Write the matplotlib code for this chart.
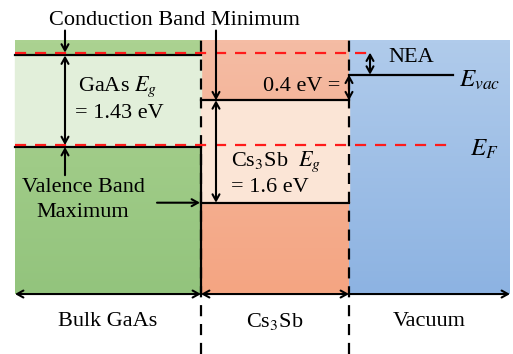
import numpy as np
import matplotlib
matplotlib.use('Agg')
import matplotlib.pyplot as plt
from matplotlib.colors import LinearSegmentedColormap

plt.rcParams['font.family'] = ['Liberation Serif', 'DejaVu Serif']
plt.rcParams['mathtext.fontset'] = 'stix'

# energies in eV, GaAs valence band maximum taken as zero
layers = ['Bulk GaAs', 'Cs$_3$Sb', 'Vacuum']
gaas_vbm = 0.0
gaas_eg = 1.43
cs3sb_cbm = 0.73
cs3sb_eg = 1.6
cs3sb_ea = 0.4          # E_vac above the Cs3Sb conduction band
fermi = 0.03

gaas_cbm = gaas_vbm + gaas_eg
cs3sb_vbm = cs3sb_cbm - cs3sb_eg
e_vac = cs3sb_cbm + cs3sb_ea

# layout (x in figure pixels, band box limits in eV)
edges = [15, 201, 349, 510]
top, bottom = 1.67, -2.297
ymin, ymax = -3.234, 2.297
dash_off = 0.045
FS = 16

fig = plt.figure(figsize=(5.13, 3.54), dpi=100)
ax = fig.add_axes([0, 0, 1, 1])
ax.set_xlim(0, 513)
ax.set_ylim(ymin, ymax)
ax.axis('off')


def grad_box(x0, x1, y0, y1, c_top, c_bot):
    cmap = LinearSegmentedColormap.from_list('g', [c_bot, c_top])
    g = np.linspace(0, 1, 64).reshape(-1, 1)
    ax.imshow(g, cmap=cmap, extent=(x0, x1, y0, y1), origin='lower',
              aspect='auto', zorder=0, interpolation='bicubic')


# GaAs
grad_box(edges[0], edges[1], bottom, top, '#abd291', '#93c47d')
ax.fill_between([edges[0], edges[1]], gaas_vbm, gaas_cbm, color='#e2efda', zorder=1)
# Cs3Sb
grad_box(edges[1], edges[2], bottom, top, '#f5bca4', '#f4a582')
ax.fill_between([edges[1], edges[2]], cs3sb_vbm, cs3sb_cbm, color='#fbe5d6', zorder=1)
# vacuum
grad_box(edges[2], edges[3], bottom, top, '#b0cbeb', '#8db3e2')

# band edges
ax.plot([edges[0], edges[1]], [gaas_cbm, gaas_cbm], color='black', lw=1.6, zorder=3)
ax.plot([edges[0], edges[1]], [gaas_vbm, gaas_vbm], color='black', lw=1.6, zorder=3)
ax.plot([edges[1], edges[2]], [cs3sb_cbm, cs3sb_cbm], color='black', lw=1.6, zorder=3)
ax.plot([edges[1], edges[2]], [cs3sb_vbm, cs3sb_vbm], color='black', lw=1.6, zorder=3)
ax.plot([edges[2], 453], [e_vac, e_vac], color='black', lw=1.6, zorder=3)
ax.plot([edges[1], edges[1]], [bottom, gaas_vbm], color='black', lw=1.6, zorder=3)

# reference levels
ax.plot([edges[0], 370], [gaas_cbm + dash_off] * 2, color='#ff1a1a', lw=1.6,
        dashes=(5, 4), zorder=4)
ax.plot([edges[0], 453], [fermi] * 2, color='#ff1a1a', lw=1.6,
        dashes=(5, 4), zorder=4)

# interfaces
for xb in edges[1:3]:
    ax.plot([xb, xb], [ymin, top], color='black', lw=1.6, dashes=(5, 3.5), zorder=2)


def arrow(x0, y0, x1, y1, style='->'):
    ax.annotate('', xy=(x1, y1), xytext=(x0, y0),
                arrowprops=dict(arrowstyle=style + ',head_length=0.45,head_width=0.25',
                                color='black', lw=1.5, shrinkA=0, shrinkB=0),
                zorder=5)


# conduction band minimum callout
ax.text(174, 1.98, 'Conduction Band Minimum', ha='center', va='center', fontsize=FS)
arrow(65, 1.82, 65, gaas_cbm + dash_off)
arrow(216, 1.82, 216, cs3sb_cbm)

# GaAs gap
arrow(65, gaas_vbm + fermi, 65, gaas_cbm, '<->')
ax.text(78, 0.94, 'GaAs $E_g$', ha='left', va='center', fontsize=FS)
ax.text(75, 0.53, '= %.2f eV' % gaas_eg, ha='left', va='center', fontsize=FS)

# valence band maximum callout
arrow(65, -0.44, 65, gaas_vbm)
ax.text(83, -0.64, 'Valence Band', ha='center', va='center', fontsize=FS)
ax.text(83, -1.03, 'Maximum', ha='center', va='center', fontsize=FS)
arrow(157, cs3sb_vbm, edges[1] - 1, cs3sb_vbm)

# Cs3Sb gap
arrow(216, cs3sb_vbm, 216, cs3sb_cbm, '<->')
ax.text(231, -0.23, 'Cs$_3$Sb  $E_g$', ha='left', va='center', fontsize=FS)
ax.text(231, -0.625, '= %.1f eV' % cs3sb_eg, ha='left', va='center', fontsize=FS)

# electron affinity and NEA
arrow(edges[2], cs3sb_cbm, edges[2], e_vac, '<->')
ax.text(340, 0.94, '%.1f eV =' % cs3sb_ea, ha='right', va='center', fontsize=FS)
arrow(370, e_vac, 370, gaas_cbm + dash_off, '<->')
ax.text(388, 1.40, 'NEA', ha='left', va='center', fontsize=FS)
ax.text(459, 1.04, '$E_{vac}$', ha='left', va='center', fontsize=FS + 2)
ax.text(470, -0.03, '$E_F$', ha='left', va='center', fontsize=FS + 2)

# layer widths
for i, name in enumerate(layers):
    style = '->' if i == 2 else '<->'
    arrow(edges[i], bottom, edges[i + 1], bottom, style)
    ax.text((edges[i] + edges[i + 1]) / 2, -2.73, name, ha='center', va='center',
            fontsize=FS)

fig.savefig('out.png', dpi=100)
